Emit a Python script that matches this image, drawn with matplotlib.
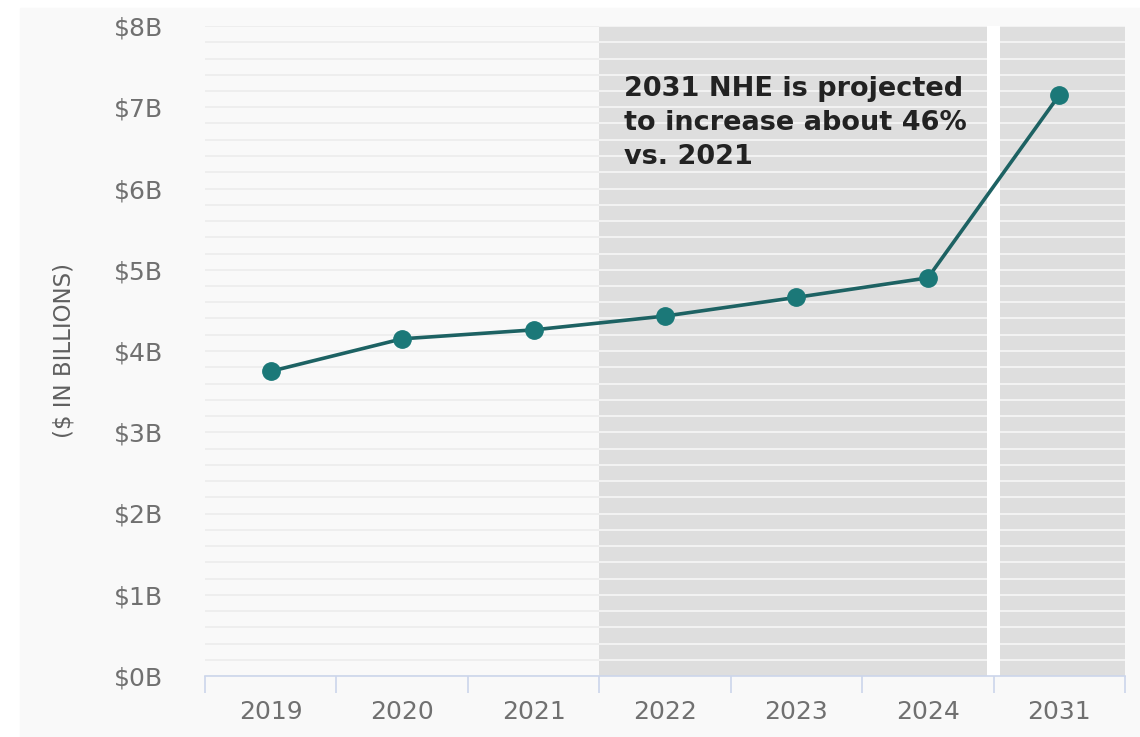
import numpy as np
import matplotlib
matplotlib.use("Agg")
import matplotlib.pyplot as plt
from matplotlib.patches import Rectangle

# ---- data ----
years = ["2019", "2020", "2021", "2022", "2023", "2024", "2031"]
nhe_trillions = [3.75, 4.15, 4.26, 4.43, 4.66, 4.90, 7.15]
ytick_values = [0, 1, 2, 3, 4, 5, 6, 7, 8]
ytick_labels = ["$0B", "$1B", "$2B", "$3B", "$4B", "$5B", "$6B", "$7B", "$8B"]
annotation = "2031 NHE is projected\nto increase about 46%\nvs. 2021"
ylabel = "($ IN BILLIONS)"

# ---- figure ----
W, H = 1140, 737
fig = plt.figure(figsize=(W / 100, H / 100), dpi=100, facecolor="white")
fig.patches.append(Rectangle((20 / W, 0), 1 - 20 / W, 1 - 8 / H,
                             transform=fig.transFigure, color="#f9f9f9", zorder=-10))

left, right, bottom, top = 205, 1125, 676, 26
ax = fig.add_axes([left / W, (H - bottom) / H, (right - left) / W, (bottom - top) / H])
ax.set_facecolor("none")

n = len(years)
x = np.arange(n)
ax.set_xlim(-0.5, n - 0.5)
ax.set_ylim(0, 8)

# grid lines (every 0.2)
grid_y = np.arange(0, 8.001, 0.2)
ax.hlines(grid_y, -0.5, n - 0.5, colors="#ececec", linewidth=1.2, zorder=0.5)

# shaded projection regions with a white gap
gap = 0.05
ax.add_patch(Rectangle((5.5 - gap, 0), 2 * gap, 8, facecolor="white",
                       edgecolor="none", zorder=1))
spans = [(2.5, 5.5 - gap), (5.5 + gap, 6.5)]
for a, b in spans:
    ax.add_patch(Rectangle((a, 0), b - a, 8, facecolor="#dedede", edgecolor="none", zorder=1))
    ax.hlines(grid_y[1:], a, b, colors="#f2f2f2", linewidth=1.5, zorder=1.2)

# line + markers
ax.plot(x, nhe_trillions, color="#1d6263", linewidth=2.6, zorder=3,
        marker="o", markersize=12.5, markerfacecolor="#1b7878",
        markeredgecolor="#1b7878", solid_capstyle="round")

# annotation
ax.text(2.69, 7.38, annotation, ha="left", va="top", fontsize=19.5,
        fontweight="bold", color="#222222", linespacing=1.38,
        family="DejaVu Sans", zorder=4)

# spines
for s in ["top", "right", "left"]:
    ax.spines[s].set_visible(False)
ax.spines["bottom"].set_color("#ccd6eb")
ax.spines["bottom"].set_linewidth(1.2)
ax.spines["bottom"].set_zorder(5)

# x ticks: boundaries as major ticks, labels on minor ticks
ax.set_xticks(np.arange(-0.5, n, 1.0))
ax.set_xticklabels([])
ax.tick_params(axis="x", which="major", length=12, width=1.2, color="#ccd6eb")
ax.set_xticks(x, minor=True)
ax.set_xticklabels(years, minor=True)
ax.tick_params(axis="x", which="minor", length=0, pad=17, labelsize=18,
               labelcolor="#707070")

# y ticks
ax.set_yticks(ytick_values)
ax.set_yticklabels(ytick_labels)
ax.tick_params(axis="y", length=0, pad=30, labelsize=18, labelcolor="#707070")

ax.set_ylabel(ylabel, fontsize=16.5, color="#606060")
ax.yaxis.set_label_coords(-0.141, 0.5)

fig.savefig("out.png", dpi=100, facecolor=fig.get_facecolor())
